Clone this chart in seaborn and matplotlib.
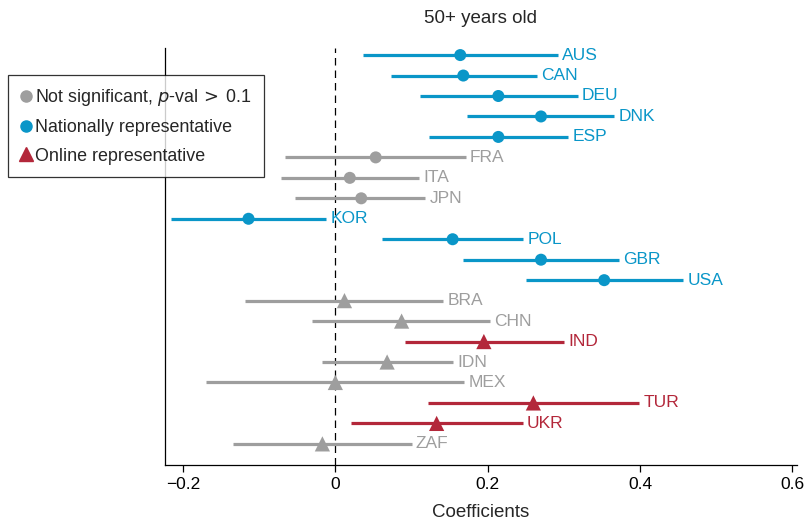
import numpy as np
import pandas as pd
import matplotlib
matplotlib.use('Agg')
import matplotlib.pyplot as plt
import seaborn as sns
from matplotlib.lines import Line2D

# values
countries = ['AUS', 'CAN', 'DEU', 'DNK', 'ESP', 'FRA', 'ITA', 'JPN', 'KOR', 'POL',
             'GBR', 'USA', 'BRA', 'CHN', 'IND', 'IDN', 'MEX', 'TUR', 'UKR', 'ZAF']
coef = [0.164, 0.168, 0.214, 0.270, 0.214, 0.053, 0.019, 0.034, -0.114, 0.154,
        0.270, 0.353, 0.012, 0.087, 0.195, 0.068, 0.000, 0.260, 0.133, -0.017]
ci_low = [0.036, 0.073, 0.111, 0.173, 0.123, -0.066, -0.071, -0.053, -0.216, 0.061,
          0.168, 0.250, -0.119, -0.031, 0.091, -0.018, -0.170, 0.122, 0.020, -0.135]
ci_high = [0.292, 0.265, 0.318, 0.366, 0.306, 0.171, 0.110, 0.118, -0.012, 0.247,
           0.373, 0.457, 0.142, 0.203, 0.300, 0.155, 0.169, 0.399, 0.246, 0.100]
online = [False] * 12 + [True] * 8
significant = [True, True, True, True, True, False, False, False, True, True,
               True, True, False, False, True, False, False, True, True, False]

BLUE = '#0a96c8'
GREY = '#9e9e9e'
RED = '#b3273a'

df = pd.DataFrame({'country': countries, 'coef': coef, 'lo': ci_low, 'hi': ci_high,
                   'online': online, 'sig': significant})
df['row'] = np.arange(len(df))
df['color'] = np.where(~df['sig'], GREY, np.where(df['online'], RED, BLUE))
df['kind'] = np.where(df['online'], 'online', 'national')

sns.set_style('white')
plt.rcParams['font.family'] = ['Liberation Sans', 'DejaVu Sans']

fig = plt.figure(figsize=(8.07, 5.23), dpi=100)
ax = fig.add_axes([0.2045, 0.111, 0.783, 0.797])

ax.axvline(0, color='black', lw=0.9, ls=(0, (6, 4)), zorder=1)
ax.hlines(df['row'], df['lo'], df['hi'], colors=df['color'], lw=2.3, zorder=2)

sns.scatterplot(data=df, x='coef', y='row', style='kind', size='kind',
                markers={'national': 'o', 'online': '^'},
                sizes={'national': 75, 'online': 120},
                c=df['color'].tolist(), linewidth=0, ax=ax,
                legend=False, zorder=3)

for _, r in df.iterrows():
    ax.annotate(r['country'], (r['hi'], r['row']), xytext=(3, 0),
                textcoords='offset points', va='center', ha='left',
                color=r['color'], fontsize=12.5)

ax.set_xlim(-0.2236, 0.606)
ax.set_ylim(len(df) - 1 + 1.03, -0.34)
ax.set_xticks([-0.2, 0, 0.2, 0.4, 0.6])
ax.set_xticklabels(['\u22120.2', '0', '0.2', '0.4', '0.6'])
ax.set_yticks([])
ax.set_ylabel('')
ax.set_xlabel('Coefficients', fontsize=13.5, labelpad=9)
ax.tick_params(axis='x', direction='out', length=5, width=0.9, labelsize=12.5,
               bottom=True, colors='black')
for side in ['top', 'right']:
    ax.spines[side].set_visible(False)
for side in ['left', 'bottom']:
    ax.spines[side].set_color('black')
    ax.spines[side].set_linewidth(0.9)
ax.set_title('50+ years old', fontsize=13.5, pad=18)

handles = [
    Line2D([], [], marker='o', color=GREY, ls='', markersize=8),
    Line2D([], [], marker='o', color=BLUE, ls='', markersize=8),
    Line2D([], [], marker='^', color=RED, ls='', markersize=10),
]
labels = [r'Not significant, $p$-val$\,>\,$0.1', 'Nationally representative',
          'Online representative']
leg = fig.legend(handles, labels, loc='upper left', bbox_to_anchor=(0.01, 0.857),
                 frameon=True, fancybox=False, edgecolor='black', fontsize=12.9,
                 handlelength=0.6, handletextpad=0.2, borderpad=0.7,
                 labelspacing=0.62, borderaxespad=0)
leg.get_frame().set_linewidth(0.9)

fig.savefig('out.png', dpi=100)
